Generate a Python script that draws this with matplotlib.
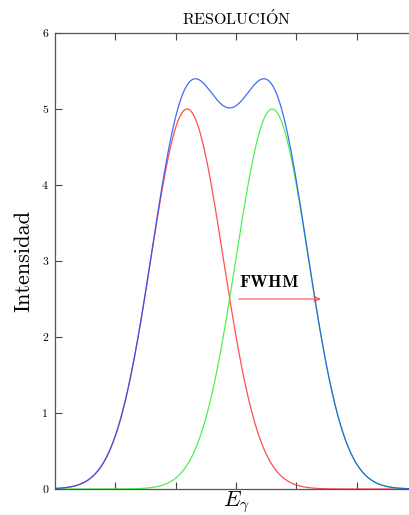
import numpy as np
import matplotlib
matplotlib.use("Agg")
import matplotlib.pyplot as plt

# Two gaussian peaks and their sum
peak_centers = [2.19, 3.60]
peak_amplitudes = [5.0, 5.0]
peak_sigma = 0.60
peak_colors = ["#ff3030", "#30ee30"]
sum_color = "#2050ff"

yticks = [0, 1, 2, 3, 4, 5, 6]
xticks = [1, 2, 3, 4, 5]

fwhm_start = 3.0
fwhm_end = 4.45
fwhm_level = 2.5

plt.rcParams["font.family"] = ["cmr10", "DejaVu Serif"]
plt.rcParams["mathtext.fontset"] = "cm"
plt.rcParams["axes.unicode_minus"] = False

fig = plt.figure(figsize=(4.09, 5.15), dpi=100)
ax = fig.add_axes([55 / 409, 26 / 515, 362 / 409, 456 / 515])

x = np.linspace(0, 6, 1200)
total = np.zeros_like(x)
for c, a, col in zip(peak_centers, peak_amplitudes, peak_colors):
    y = a * np.exp(-(x - c) ** 2 / (2 * peak_sigma ** 2))
    total += y
    ax.plot(x, y, color=col, lw=0.9, alpha=0.85)
ax.plot(x, total, color=sum_color, lw=0.9, alpha=0.85)

ax.annotate(
    "", xy=(fwhm_end, fwhm_level), xytext=(fwhm_start, fwhm_level),
    arrowprops=dict(arrowstyle="->", color="#ff3030", lw=0.8, alpha=0.85),
)
ax.text(3.05, 2.62, r"$\mathbf{FWHM}$", fontsize=12.5, ha="left", va="bottom")

ax.set_xlim(0, 6)
ax.set_ylim(0, 6)
ax.set_xticks(xticks)
ax.set_xticklabels([])
ax.set_yticks(yticks)
ax.tick_params(direction="in", top=True, right=False, length=5,
               width=0.8, color="#444444", labelsize=8.5, pad=5)
for side in ["left", "bottom", "top"]:
    ax.spines[side].set_color("#555555")
    ax.spines[side].set_linewidth(0.9)
ax.spines["right"].set_visible(False)

ax.set_title(r"$\mathrm{RESOLUCI\acute{O}N}$", fontsize=11.5, pad=6)
ax.set_ylabel("Intensidad", fontsize=16, labelpad=6)
ax.set_xlabel(r"$E_\gamma$", fontsize=16, labelpad=-5)

fig.savefig("out.png", dpi=100)
